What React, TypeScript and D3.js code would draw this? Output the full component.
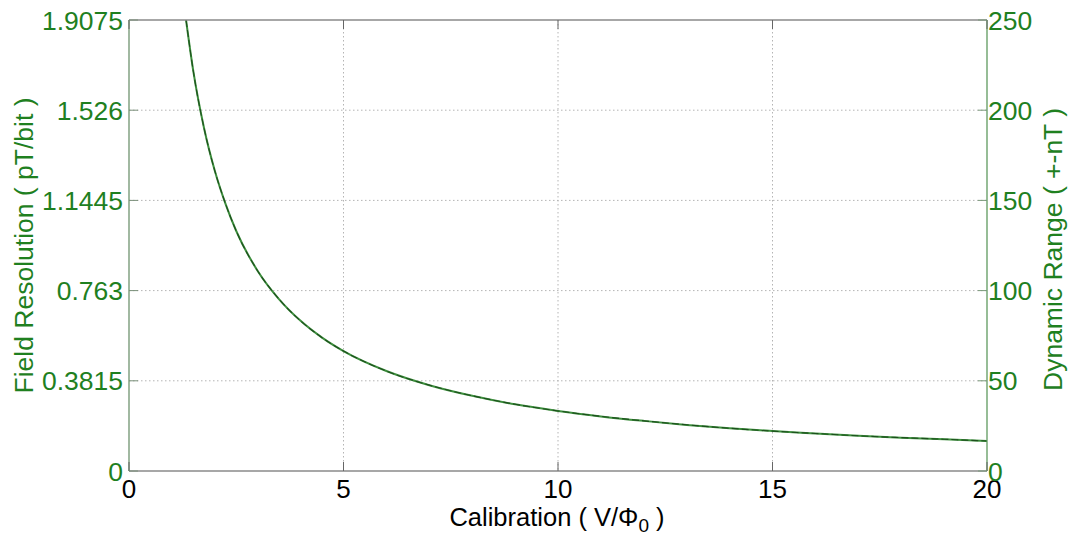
import React from "react";
import * as d3 from "d3";

// Calibration (V/Φ0) sample points
const calibration = [1.33, 1.5, 1.75, 2, 2.25, 2.5, 3, 3.5, 4, 4.5, 5, 6, 7, 8, 9, 10, 11, 12, 13, 14, 15, 16, 17, 18, 19, 20];
// Field resolution (pT/bit) at each calibration value
const resolution = [1.9075, 1.69, 1.45, 1.27, 1.13, 1.015, 0.846, 0.726, 0.635, 0.564, 0.507, 0.423, 0.363, 0.318, 0.282, 0.254, 0.231, 0.212, 0.195, 0.181, 0.169, 0.159, 0.149, 0.141, 0.134, 0.127];
// Dynamic range (± nT) at each calibration value
const dynamicRange = [250, 221.5, 190, 166.4, 148.1, 133, 110.9, 95.2, 83.2, 73.9, 66.5, 55.4, 47.6, 41.7, 37, 33.3, 30.3, 27.8, 25.6, 23.7, 22.1, 20.8, 19.5, 18.5, 17.6, 16.6];

const xTicks = [0, 5, 10, 15, 20];
const leftTicks = [0, 0.3815, 0.763, 1.1445, 1.526, 1.9075];
const rightTicks = [0, 50, 100, 150, 200, 250];

const W = 1075;
const H = 538;
const M = { left: 129, right: 987, top: 20, bottom: 471 };
const GREEN = "#1f801f";
const FONT = "'Liberation Sans', Arial, sans-serif";

export default function App() {
  const x = d3.scaleLinear().domain([0, 20]).range([M.left, M.right]);
  const yL = d3.scaleLinear().domain([0, 1.9075]).range([M.bottom, M.top]);
  const yR = d3.scaleLinear().domain([0, 250]).range([M.bottom, M.top]);

  const resLine = d3
    .line<number>()
    .x((_, i) => x(calibration[i]))
    .y((d) => yL(d))
    .curve(d3.curveMonotoneX)(resolution) as string;

  const rangeLine = d3
    .line<number>()
    .x((_, i) => x(calibration[i]))
    .y((d) => yR(d))
    .curve(d3.curveMonotoneX)(dynamicRange) as string;

  const tickLen = 9;

  return (
    <svg
      width={W}
      height={H}
      style={{ position: "absolute", left: 0, top: 0, background: "#fff" }}
      fontFamily={FONT}
    >
      <rect x={0} y={0} width={W} height={H} fill="#fff" />
      <defs>
        <clipPath id="plot-clip">
          <rect x={M.left} y={M.top} width={M.right - M.left} height={M.bottom - M.top} />
        </clipPath>
      </defs>

      {/* grid */}
      <g stroke="#b4b4b4" strokeWidth={1} strokeDasharray="1.5,2.5">
        {xTicks
          .filter((t) => t > 0 && t < 20)
          .map((t) => (
            <line key={"gx" + t} x1={x(t)} x2={x(t)} y1={M.top} y2={M.bottom} />
          ))}
        {leftTicks
          .filter((t) => t > 0 && t < 1.9075)
          .map((t) => (
            <line key={"gy" + t} x1={M.left} x2={M.right} y1={yL(t)} y2={yL(t)} />
          ))}
      </g>

      {/* curves */}
      <g clipPath="url(#plot-clip)" fill="none">
        <path d={resLine} stroke="#3d8f3d" strokeWidth={2} />
        <path d={rangeLine} stroke="#1d4f1d" strokeWidth={1.1} strokeDasharray="7,3" />
      </g>

      {/* frame */}
      <line x1={M.left} x2={M.right} y1={M.top} y2={M.top} stroke="#8a8a8a" strokeWidth={1.3} />
      <line x1={M.left} x2={M.right} y1={M.bottom} y2={M.bottom} stroke="#8a8a8a" strokeWidth={1.3} />
      <line x1={M.left} x2={M.left} y1={M.top} y2={M.bottom} stroke="#6f936f" strokeWidth={1.3} />
      <line x1={M.right} x2={M.right} y1={M.top} y2={M.bottom} stroke="#5f9a5f" strokeWidth={1.3} />

      {/* ticks */}
      <g stroke="#666" strokeWidth={1}>
        {xTicks.map((t) => (
          <g key={"xt" + t}>
            <line x1={x(t)} x2={x(t)} y1={M.bottom} y2={M.bottom - tickLen} />
            <line x1={x(t)} x2={x(t)} y1={M.top} y2={M.top + tickLen} />
          </g>
        ))}
        {leftTicks.map((t) => (
          <line key={"lt" + t} x1={M.left} x2={M.left + tickLen} y1={yL(t)} y2={yL(t)} stroke="#7a907a" />
        ))}
        {rightTicks.map((t) => (
          <line key={"rt" + t} x1={M.right} x2={M.right - tickLen} y1={yR(t)} y2={yR(t)} stroke="#7a9a7a" />
        ))}
      </g>

      {/* x tick labels */}
      <g fontSize={26} fill="#000" textAnchor="middle">
        {xTicks.map((t) => (
          <text key={"xl" + t} x={x(t)} y={M.bottom + 27}>
            {t}
          </text>
        ))}
      </g>

      {/* left tick labels */}
      <g fontSize={26.5} fill={GREEN} textAnchor="end">
        {leftTicks.map((t) => (
          <text key={"ll" + t} x={M.left - 6} y={yL(t) + 9.5}>
            {t}
          </text>
        ))}
      </g>

      {/* right tick labels */}
      <g fontSize={26.5} fill={GREEN} textAnchor="start">
        {rightTicks.map((t) => (
          <text key={"rl" + t} x={M.right + 1} y={yR(t) + 9.5}>
            {t}
          </text>
        ))}
      </g>

      {/* axis titles */}
      <text x={557} y={526} fontSize={25.5} fill="#000" textAnchor="middle">
        Calibration ( V/Φ
        <tspan fontSize={19} dy={6}>0</tspan>
        <tspan dy={-6}> )</tspan>
      </text>
      <text
        transform={`translate(33, ${(M.top + M.bottom) / 2}) rotate(-90)`}
        fontSize={26.5}
        fill={GREEN}
        textAnchor="middle"
      >
        Field Resolution ( pT/bit )
      </text>
      <text
        transform={`translate(1062, ${(M.top + M.bottom) / 2 + 4}) rotate(-90)`}
        fontSize={26.5}
        fill={GREEN}
        textAnchor="middle"
      >
        Dynamic Range ( +-nT )
      </text>
    </svg>
  );
}
